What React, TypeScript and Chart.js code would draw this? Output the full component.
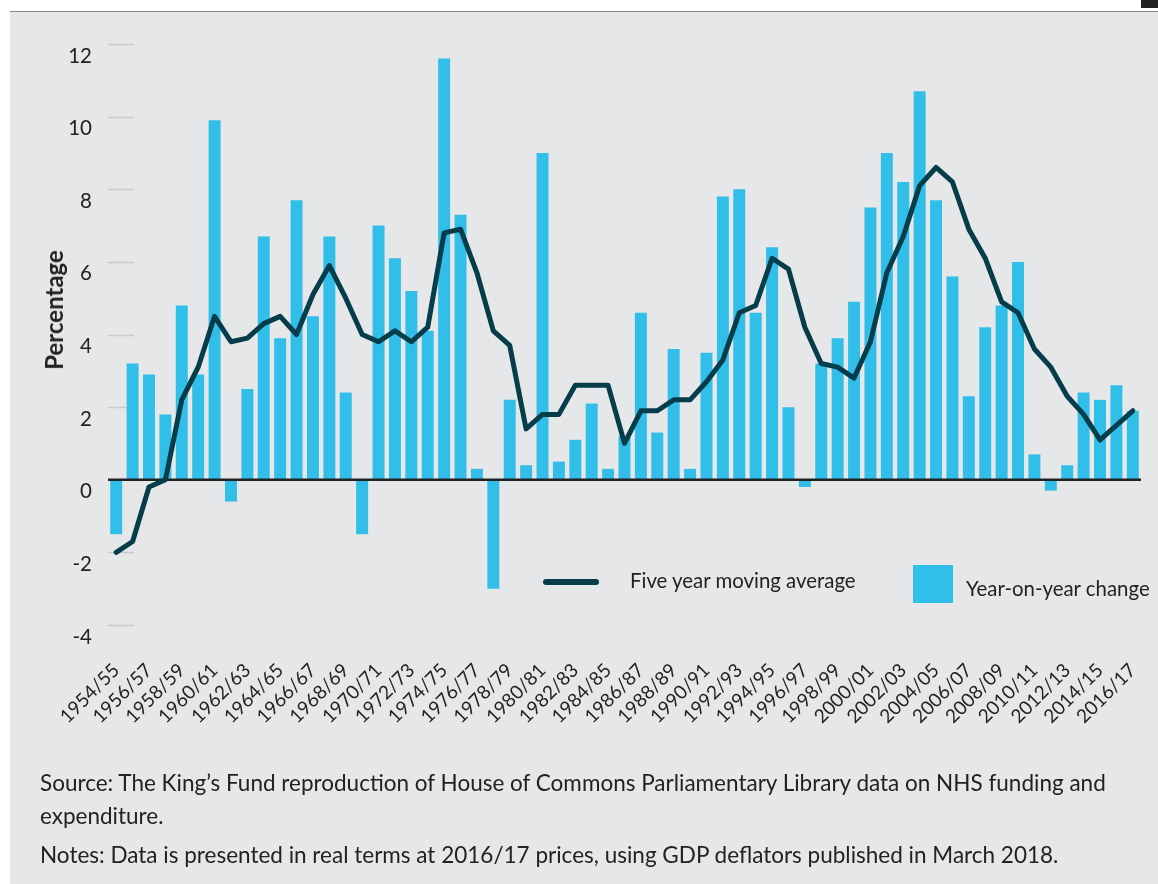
import React, { useEffect, useRef } from "react";
import { Chart, registerables } from "chart.js";

Chart.register(...registerables);

const years: string[] = [
  "1954/55", "1955/56", "1956/57", "1957/58", "1958/59", "1959/60", "1960/61", "1961/62",
  "1962/63", "1963/64", "1964/65", "1965/66", "1966/67", "1967/68", "1968/69", "1969/70",
  "1970/71", "1971/72", "1972/73", "1973/74", "1974/75", "1975/76", "1976/77", "1977/78",
  "1978/79", "1979/80", "1980/81", "1981/82", "1982/83", "1983/84", "1984/85", "1985/86",
  "1986/87", "1987/88", "1988/89", "1989/90", "1990/91", "1991/92", "1992/93", "1993/94",
  "1994/95", "1995/96", "1996/97", "1997/98", "1998/99", "1999/00", "2000/01", "2001/02",
  "2002/03", "2003/04", "2004/05", "2005/06", "2006/07", "2007/08", "2008/09", "2009/10",
  "2010/11", "2011/12", "2012/13", "2013/14", "2014/15", "2015/16", "2016/17",
];

const yearOnYearChange: number[] = [
  -1.5, 3.2, 2.9, 1.8, 4.8, 2.9, 9.9, -0.6, 2.5, 6.7, 3.9, 7.7, 4.5, 6.7, 2.4, -1.5,
  7.0, 6.1, 5.2, 4.1, 11.6, 7.3, 0.3, -3.0, 2.2, 0.4, 9.0, 0.5, 1.1, 2.1, 0.3, 1.2,
  4.6, 1.3, 3.6, 0.3, 3.5, 7.8, 8.0, 4.6, 6.4, 2.0, -0.2, 3.2, 3.9, 4.9, 7.5, 9.0,
  8.2, 10.7, 7.7, 5.6, 2.3, 4.2, 4.8, 6.0, 0.7, -0.3, 0.4, 2.4, 2.2, 2.6, 1.9,
];

const fiveYearMovingAverage: number[] = [
  -2.0, -1.7, -0.2, 0.0, 2.2, 3.1, 4.5, 3.8, 3.9, 4.3, 4.5, 4.0, 5.1, 5.9, 5.0, 4.0,
  3.8, 4.1, 3.8, 4.2, 6.8, 6.9, 5.7, 4.1, 3.7, 1.4, 1.8, 1.8, 2.6, 2.6, 2.6, 1.0,
  1.9, 1.9, 2.2, 2.2, 2.7, 3.3, 4.6, 4.8, 6.1, 5.8, 4.2, 3.2, 3.1, 2.8, 3.8, 5.7,
  6.7, 8.1, 8.6, 8.2, 6.9, 6.1, 4.9, 4.6, 3.6, 3.1, 2.3, 1.8, 1.1, 1.5, 1.9,
];

const yTicks: number[] = [-4, -2, 0, 2, 4, 6, 8, 10, 12];

const seriesNames = ["Five year moving average", "Year-on-year change"];
const yAxisTitle = "Percentage";
const sourceLine1 =
  "Source: The King\u2019s Fund reproduction of House of Commons Parliamentary Library data on NHS funding and";
const sourceLine2 = "expenditure.";
const notesLine =
  "Notes: Data is presented in real terms at 2016/17 prices, using GDP deflators published in March 2018.";

const BAR_COLOR = "#31bfe9";
const LINE_COLOR = "#063d4a";
const BG = "#e6e7e9";
const TEXT = "#222222";
const FONT = "Lato, 'Open Sans', sans-serif";

export default function App() {
  const canvasRef = useRef<HTMLCanvasElement | null>(null);

  useEffect(() => {
    const canvas = canvasRef.current;
    if (!canvas) return;

    const decorPlugin = {
      id: "decor",
      beforeDatasetsDraw(chart: any) {
        const { ctx, chartArea, scales } = chart;
        const y = scales.y;
        ctx.save();
        ctx.strokeStyle = "#c9cacc";
        ctx.lineWidth = 1.5;
        y.ticks.forEach((t: any) => {
          if (t.value === 0) return;
          const py = Math.round(y.getPixelForValue(t.value)) + 0.5;
          ctx.beginPath();
          ctx.moveTo(chartArea.left, py);
          ctx.lineTo(chartArea.left + 26, py);
          ctx.stroke();
        });
        ctx.restore();
      },
      afterDatasetDraw(chart: any, args: any) {
        if (args.index !== 1) return;
        const { ctx, chartArea, scales } = chart;
        const py = scales.y.getPixelForValue(0);
        ctx.save();
        ctx.strokeStyle = "#222222";
        ctx.lineWidth = 2.5;
        ctx.beginPath();
        ctx.moveTo(chartArea.left, py);
        ctx.lineTo(chartArea.right, py);
        ctx.stroke();
        ctx.restore();
      },
    };

    const chart = new Chart(canvas, {
      type: "bar",
      data: {
        labels: years,
        datasets: [
          {
            type: "line",
            label: seriesNames[0],
            data: fiveYearMovingAverage,
            borderColor: LINE_COLOR,
            backgroundColor: LINE_COLOR,
            borderWidth: 5,
            pointRadius: 0,
            tension: 0,
            borderJoinStyle: "round",
            borderCapStyle: "round",
            order: 0,
          } as any,
          {
            type: "bar",
            label: seriesNames[1],
            data: yearOnYearChange,
            backgroundColor: BAR_COLOR,
            barPercentage: 0.73,
            categoryPercentage: 1.0,
            order: 1,
          },
        ],
      },
      options: {
        responsive: false,
        animation: false,
        events: [],
        layout: { padding: { left: 0, top: 44, right: 17, bottom: 0 } },
        plugins: {
          legend: { display: false },
          title: { display: false },
          tooltip: { enabled: false },
        },
        scales: {
          x: {
            grid: { display: false },
            border: { display: false },
            ticks: {
              autoSkip: false,
              maxRotation: 45,
              minRotation: 45,
              padding: 26,
              color: TEXT,
              font: { family: FONT, size: 19 },
              callback: (_v: any, i: number) => (i % 2 === 0 ? years[i] : ""),
            },
            afterFit: (s: any) => {
              s.height = 884 - 625;
              s.paddingLeft = 0;
              s.paddingRight = 0;
            },
          },
          y: {
            min: yTicks[0],
            max: yTicks[yTicks.length - 1],
            afterBuildTicks: (s: any) => {
              s.ticks = yTicks.map((v) => ({ value: v }));
            },
            grid: { display: false, drawTicks: false },
            border: { display: false },
            ticks: {
              padding: 16,
              labelOffset: 12,
              color: TEXT,
              font: { family: FONT, size: 20.5 },
            },
            afterFit: (s: any) => {
              s.width = 108;
              s.paddingTop = 0;
              s.paddingBottom = 0;
            },
          },
        },
      },
      plugins: [decorPlugin],
    });

    return () => chart.destroy();
  }, []);

  return (
    <div
      style={{
        position: "fixed",
        left: 0,
        top: 0,
        width: 1158,
        height: 884,
        background: "#ffffff",
        overflow: "hidden",
        fontFamily: FONT,
        color: TEXT,
      }}
    >
      <div
        style={{
          position: "absolute",
          left: 10,
          top: 11,
          width: 1148,
          height: 873,
          background: BG,
          borderTop: "1.5px solid #8a8a8a",
        }}
      />
      <div
        style={{
          position: "absolute",
          left: 1141,
          top: 0,
          width: 17,
          height: 8,
          background: "#222",
        }}
      />
      <canvas
        ref={canvasRef}
        width={1158}
        height={884}
        style={{ position: "absolute", left: 0, top: 0, width: 1158, height: 884 }}
      />
      <div
        style={{
          position: "absolute",
          left: 54,
          top: 310,
          transform: "translate(-50%, -50%) rotate(-90deg)",
          fontSize: 24,
          fontWeight: 700,
          whiteSpace: "nowrap",
          lineHeight: "28px",
        }}
      >
        {yAxisTitle}
      </div>
      <div
        style={{
          position: "absolute",
          left: 543,
          top: 579,
          width: 56,
          height: 6,
          borderRadius: 3,
          background: LINE_COLOR,
        }}
      />
      <div
        style={{
          position: "absolute",
          left: 630,
          top: 567,
          fontSize: 20.4,
          lineHeight: "26px",
          whiteSpace: "nowrap",
        }}
      >
        {seriesNames[0]}
      </div>
      <div
        style={{
          position: "absolute",
          left: 913,
          top: 565,
          width: 40,
          height: 38,
          background: BAR_COLOR,
        }}
      />
      <div
        style={{
          position: "absolute",
          left: 966,
          top: 575,
          fontSize: 20.4,
          lineHeight: "26px",
          whiteSpace: "nowrap",
        }}
      >
        {seriesNames[1]}
      </div>
      <div
        style={{
          position: "absolute",
          left: 40,
          top: 766,
          fontSize: 22.5,
          lineHeight: "33px",
          whiteSpace: "nowrap",
        }}
      >
        <div>{sourceLine1}</div>
        <div>{sourceLine2}</div>
        <div style={{ marginTop: 6 }}>{notesLine}</div>
      </div>
    </div>
  );
}
